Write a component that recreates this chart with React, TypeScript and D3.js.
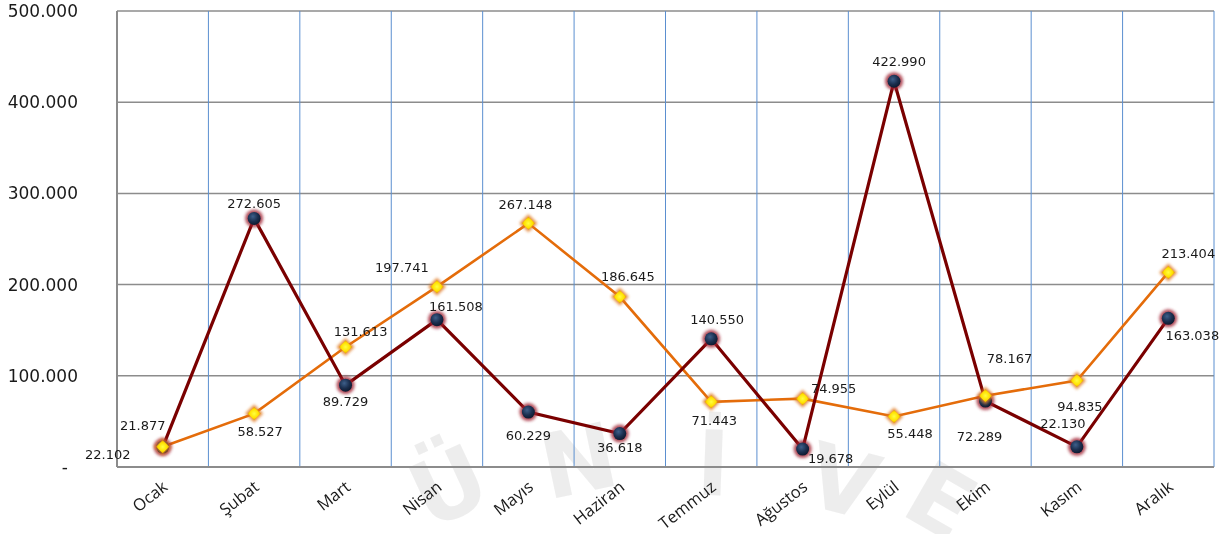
import React from "react";
import * as d3 from "d3";

// months (Turkish)
const months = ["Ocak", "Şubat", "Mart", "Nisan", "Mayıs", "Haziran", "Temmuz", "Ağustos", "Eylül", "Ekim", "Kasım", "Aralık"];
// dark red series (circle markers)
const darkValues = [21877, 272605, 89729, 161508, 60229, 36618, 140550, 19678, 422990, 72289, 22130, 163038];
// orange series (diamond markers)
const orangeValues = [22102, 58527, 131613, 197741, 267148, 186645, 71443, 74955, 55448, 78167, 94835, 213404];
const yTicks = [0, 100000, 200000, 300000, 400000, 500000];

// label nudges (px) so the data labels sit where the original placed them
const darkLabelOffset = [[-20, -22], [0, -15], [0, 16], [19, -13], [0, 23], [0, 14], [6, -19], [28, 9], [5, -20], [-6, 35], [-14, -23], [24, 17]];
const orangeLabelOffset = [[-55, 8], [6, 18], [15, -16], [-35, -19], [-3, -19], [8, -20], [3, 19], [31, -10], [16, 17], [24, -37], [3, 26], [20, -19]];

const trLocale = d3.formatLocale({ decimal: ",", thousands: ".", grouping: [3], currency: ["", "₺"] });
const fmt = trLocale.format(",.0f");

const W = 1228;
const H = 534;
const left = 117, right = 1214, top = 11, bottom = 467;

export default function App() {
  const x = d3.scaleBand<string>().domain(months).range([left, right]);
  const y = d3.scaleLinear().domain([0, 500000]).range([bottom, top]);
  const cx = (m: string) => (x(m) as number) + x.bandwidth() / 2;

  const line = d3.line<number>().x((_, i) => cx(months[i])).y(d => y(d));

  const diamond = (px: number, py: number, r: number) =>
    `M${px},${py - r}L${px + r},${py}L${px},${py + r}L${px - r},${py}Z`;

  // faint watermark letters at the bottom of the picture
  const watermark = [
    { ch: "Ü", x: 462, y: 515, r: -25 },
    { ch: "N", x: 585, y: 492, r: -12 },
    { ch: "İ", x: 712, y: 495, r: 2 },
    { ch: "V", x: 835, y: 512, r: 15 },
    { ch: "E", x: 925, y: 528, r: 30 },
  ];

  return (
    <svg width={W} height={H} style={{ position: "absolute", left: 0, top: 0, background: "#fff" }}
      fontFamily="'DejaVu Sans', sans-serif">
      <defs>
        <radialGradient id="ballGrad" cx="40%" cy="35%" r="65%">
          <stop offset="0%" stopColor="#3e5f8a" />
          <stop offset="60%" stopColor="#1b2f4f" />
          <stop offset="100%" stopColor="#0e1a30" />
        </radialGradient>
        <radialGradient id="diaGrad" cx="50%" cy="50%" r="50%">
          <stop offset="0%" stopColor="#ffff40" />
          <stop offset="65%" stopColor="#ffe000" />
          <stop offset="100%" stopColor="#e8a000" />
        </radialGradient>
        <filter id="glow" x="-60%" y="-60%" width="220%" height="220%">
          <feGaussianBlur stdDeviation="1.6" />
        </filter>
      </defs>

      <g fontFamily="'DejaVu Sans', sans-serif" fontWeight="bold" fontSize={90} fill="#e2e2e2" opacity={0.6}>
        {watermark.map((w, i) => (
          <text key={i} transform={`translate(${w.x},${w.y}) rotate(${w.r})`} textAnchor="middle">{w.ch}</text>
        ))}
      </g>

      {/* horizontal grid */}
      {yTicks.slice(1).map(t => (
        <line key={t} x1={left} x2={right} y1={y(t)} y2={y(t)} stroke="#8c8c8c" strokeWidth={1.5} />
      ))}
      {/* vertical blue category separators */}
      {months.map(m => (
        <line key={m} x1={(x(m) as number) + x.bandwidth()} x2={(x(m) as number) + x.bandwidth()}
          y1={top} y2={bottom} stroke="#5b8fd0" strokeWidth={1} />
      ))}
      <line x1={left} x2={left} y1={top} y2={bottom} stroke="#8c8c8c" strokeWidth={2} />
      <line x1={left} x2={right} y1={bottom} y2={bottom} stroke="#8c8c8c" strokeWidth={2} />

      {/* y axis labels */}
      {yTicks.map(t => (
        <text key={t} x={t === 0 ? 68 : 78} y={y(t)} dy="0.35em" textAnchor="end" fontSize={17} fill="#1a1a1a">
          {t === 0 ? "-" : fmt(t)}
        </text>
      ))}

      {/* x axis labels */}
      {months.map(m => (
        <text key={m} transform={`translate(${cx(m) + 6},${bottom + 22}) rotate(-38)`} textAnchor="end"
          fontFamily="'Open Sans', sans-serif" fontSize={16.5} fill="#1a1a1a">{m}</text>
      ))}

      {/* series lines */}
      <path d={line(orangeValues) || ""} fill="none" stroke="#e46c0a" strokeWidth={2.6} />
      <path d={line(darkValues) || ""} fill="none" stroke="#7a0000" strokeWidth={3.2} />

      {/* markers */}
      {darkValues.map((v, i) => (
        <g key={"d" + i}>
          <circle cx={cx(months[i])} cy={y(v)} r={9} fill="#a02030" opacity={0.8} filter="url(#glow)" />
          <circle cx={cx(months[i])} cy={y(v)} r={6.5} fill="url(#ballGrad)" />
        </g>
      ))}
      {orangeValues.map((v, i) => (
        <g key={"o" + i}>
          <path d={diamond(cx(months[i]), y(v), 9)} fill="#e07a20" opacity={0.85} filter="url(#glow)" />
          <path d={diamond(cx(months[i]), y(v), 6.5)} fill="url(#diaGrad)" />
        </g>
      ))}

      {/* data labels */}
      <g fontSize={13} fill="#1a1a1a" textAnchor="middle">
        {darkValues.map((v, i) => (
          <text key={"dl" + i} x={cx(months[i]) + darkLabelOffset[i][0]} y={y(v) + darkLabelOffset[i][1]} dy="0.35em">{fmt(v)}</text>
        ))}
        {orangeValues.map((v, i) => (
          <text key={"ol" + i} x={cx(months[i]) + orangeLabelOffset[i][0]} y={y(v) + orangeLabelOffset[i][1]} dy="0.35em">{fmt(v)}</text>
        ))}
      </g>
    </svg>
  );
}
